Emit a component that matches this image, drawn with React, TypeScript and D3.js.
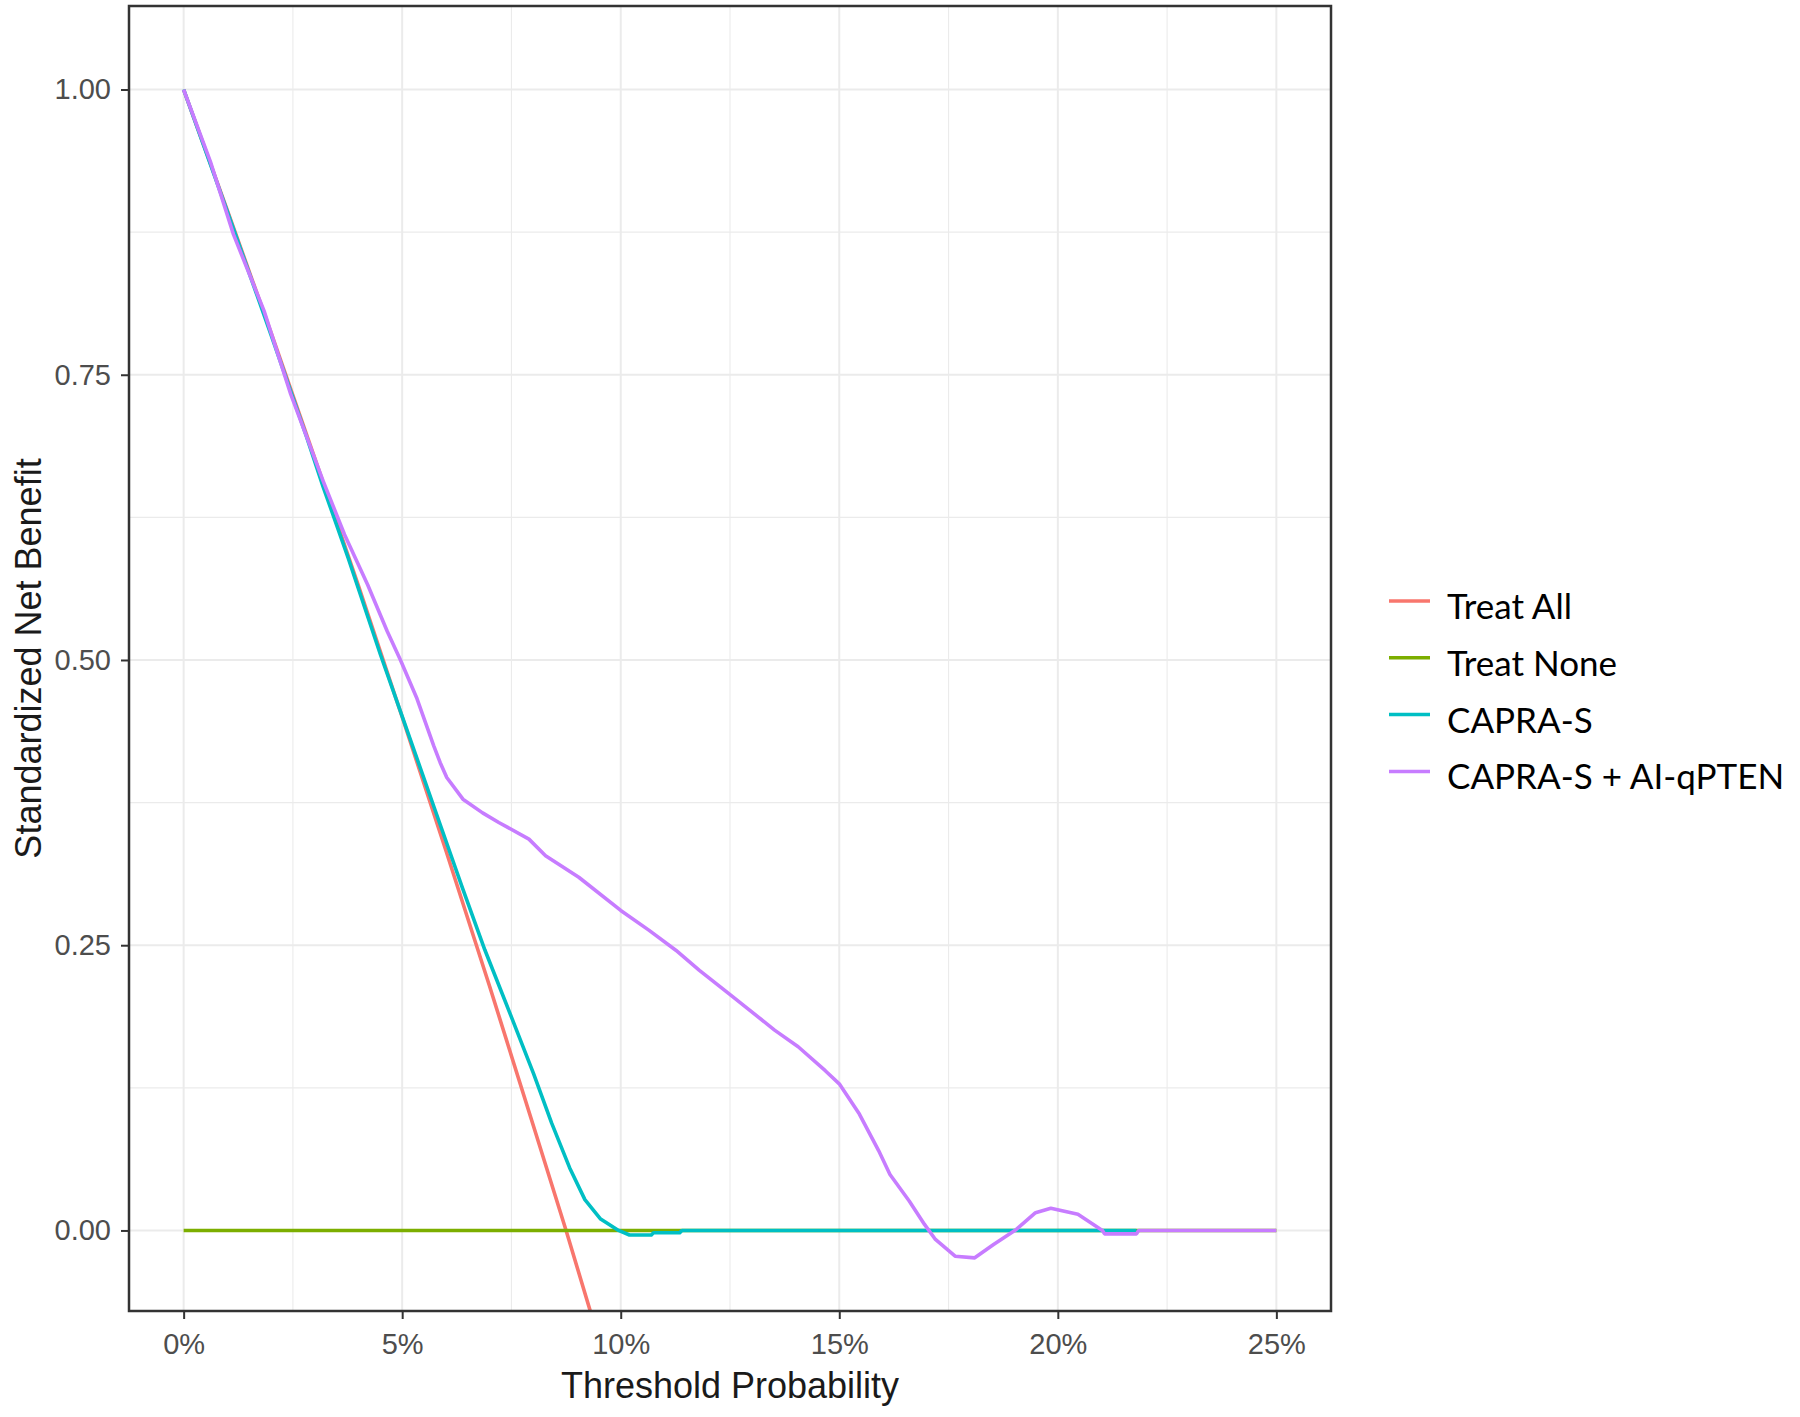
import React, { useEffect, useRef } from 'react';
import * as d3 from 'd3';

const W = 1800, H = 1417;
const PANEL = { left: 129, top: 6, right: 1331, bottom: 1311 };

const X_TICKS = [0, 5, 10, 15, 20, 25];
const X_MINOR = [2.5, 7.5, 12.5, 17.5, 22.5];
const Y_TICKS = [0, 0.25, 0.5, 0.75, 1];
const Y_MINOR = [0.125, 0.375, 0.625, 0.875];

const SERIES_NAMES = ['Treat All', 'Treat None', 'CAPRA-S', 'CAPRA-S + AI-qPTEN'];
const COLORS = ['#F8766D', '#7CAE00', '#00BFC4', '#C77CFF'];

// threshold (%) / standardized net benefit
const treatAllX = [0, 1, 2, 3, 4, 5, 6, 7, 8, 8.75, 9.4];
const treatAllY = [1, 0.894, 0.787, 0.677, 0.565, 0.45, 0.333, 0.214, 0.092, 0, -0.083];

const treatNoneX = [0, 25];
const treatNoneY = [0, 0];

const capraX = [0, 1, 2, 2.8, 3.19, 3.76, 4.5, 4.96, 5.72, 6.38, 6.89, 7.5, 8.01, 8.42, 8.83, 9.18, 9.54,
  9.95, 10.2, 10.7, 10.75, 11.35, 11.4, 21.8];
const capraY = [1, 0.893, 0.785, 0.697, 0.652, 0.59, 0.505, 0.455, 0.372, 0.3, 0.246, 0.187, 0.137, 0.094, 0.055,
  0.027, 0.01, 0, -0.004, -0.004, -0.002, -0.002, 0, 0];

const capraAiX = [0, 0.61, 1.14, 1.84, 2.45, 2.8, 3.19, 3.68, 4.21, 4.66, 4.96, 5.34, 5.72, 5.87, 6.02, 6.39, 6.84,
  7.21, 7.9, 8.28, 9.04, 10.0, 10.65, 11.26, 11.8, 12.56, 13.52, 14.06, 14.68, 15.0, 15.46, 15.9, 16.16, 16.6,
  16.95, 17.2, 17.65, 18.1, 18.53, 19.05, 19.49, 19.84, 20.46, 21.02, 21.07, 21.8, 21.85, 25];
const capraAiY = [1, 0.937, 0.873, 0.806, 0.733, 0.697, 0.657, 0.61, 0.566, 0.525, 0.5, 0.466, 0.425, 0.41, 0.397,
  0.378, 0.366, 0.3576, 0.343, 0.3285, 0.3096, 0.2805, 0.263, 0.2456, 0.228, 0.205, 0.1756, 0.161, 0.14, 0.1285,
  0.102, 0.07, 0.049, 0.0258, 0.0053, -0.0079, -0.0226, -0.024, -0.0123, 0.0009, 0.0156, 0.0194, 0.0141, 0,
  -0.003, -0.003, 0, 0];

const SERIES = [
  [treatAllX, treatAllY],
  [treatNoneX, treatNoneY],
  [capraX, capraY],
  [capraAiX, capraAiY],
];

const AXIS_FONT = '"Liberation Sans", Arial, sans-serif';

export default function App() {
  const ref = useRef<SVGSVGElement | null>(null);

  useEffect(() => {
    const svg = d3.select(ref.current);
    svg.selectAll('*').remove();

    const x = d3.scaleLinear().domain([-1.25, 26.25]).range([PANEL.left, PANEL.right]);
    const y = d3.scaleLinear().domain([-0.0706, 1.0732]).range([PANEL.bottom, PANEL.top]);

    svg.append('rect')
      .attr('width', W).attr('height', H).attr('fill', '#fff');

    // grid
    const grid = svg.append('g');
    X_MINOR.forEach(v => grid.append('line')
      .attr('x1', x(v)).attr('x2', x(v)).attr('y1', PANEL.top).attr('y2', PANEL.bottom)
      .attr('stroke', '#EBEBEB').attr('stroke-width', 1.1));
    Y_MINOR.forEach(v => grid.append('line')
      .attr('y1', y(v)).attr('y2', y(v)).attr('x1', PANEL.left).attr('x2', PANEL.right)
      .attr('stroke', '#EBEBEB').attr('stroke-width', 1.1));
    X_TICKS.forEach(v => grid.append('line')
      .attr('x1', x(v)).attr('x2', x(v)).attr('y1', PANEL.top).attr('y2', PANEL.bottom)
      .attr('stroke', '#EBEBEB').attr('stroke-width', 2));
    Y_TICKS.forEach(v => grid.append('line')
      .attr('y1', y(v)).attr('y2', y(v)).attr('x1', PANEL.left).attr('x2', PANEL.right)
      .attr('stroke', '#EBEBEB').attr('stroke-width', 2));

    // curves
    svg.append('clipPath').attr('id', 'panel-clip')
      .append('rect')
      .attr('x', PANEL.left).attr('y', PANEL.top)
      .attr('width', PANEL.right - PANEL.left).attr('height', PANEL.bottom - PANEL.top);

    const line = d3.line<[number, number]>().x(d => x(d[0])).y(d => y(d[1]));
    const curves = svg.append('g').attr('clip-path', 'url(#panel-clip)');
    SERIES.forEach(([xs, ys], i) => {
      const pts = xs.map((v, j) => [v, ys[j]] as [number, number]);
      curves.append('path')
        .attr('d', line(pts))
        .attr('fill', 'none')
        .attr('stroke', COLORS[i])
        .attr('stroke-width', 3.6)
        .attr('stroke-linejoin', 'round');
    });

    // panel border
    svg.append('rect')
      .attr('x', PANEL.left).attr('y', PANEL.top)
      .attr('width', PANEL.right - PANEL.left).attr('height', PANEL.bottom - PANEL.top)
      .attr('fill', 'none').attr('stroke', '#333').attr('stroke-width', 2.5);

    // x axis
    const xAxis = svg.append('g').attr('transform', `translate(0,${PANEL.bottom})`);
    xAxis.call(d3.axisBottom(x).tickValues(X_TICKS).tickSize(8).tickPadding(14)
      .tickFormat(d => `${d}%`));
    xAxis.select('.domain').remove();
    xAxis.selectAll('line').attr('stroke', '#333').attr('stroke-width', 2);
    xAxis.selectAll('text').attr('fill', '#4D4D4D').attr('font-size', '29px')
      .attr('font-family', AXIS_FONT);

    // y axis
    const yAxis = svg.append('g').attr('transform', `translate(${PANEL.left},0)`);
    yAxis.call(d3.axisLeft(y).tickValues(Y_TICKS).tickSize(8).tickPadding(10)
      .tickFormat(d => d3.format('.2f')(d as number)));
    yAxis.select('.domain').remove();
    yAxis.selectAll('line').attr('stroke', '#333').attr('stroke-width', 2);
    yAxis.selectAll('text').attr('fill', '#4D4D4D').attr('font-size', '29px')
      .attr('font-family', AXIS_FONT);

    // axis titles
    svg.append('text')
      .attr('x', (PANEL.left + PANEL.right) / 2).attr('y', 1398)
      .attr('text-anchor', 'middle')
      .attr('font-size', '36px').attr('font-family', AXIS_FONT).attr('fill', '#1a1a1a')
      .text('Threshold Probability');

    svg.append('text')
      .attr('transform', `translate(41,${(PANEL.top + PANEL.bottom) / 2}) rotate(-90)`)
      .attr('text-anchor', 'middle')
      .attr('font-size', '36px').attr('font-family', AXIS_FONT).attr('fill', '#1a1a1a')
      .text('Standardized Net Benefit');

    // legend
    const legend = svg.append('g');
    SERIES_NAMES.forEach((name, i) => {
      const ly = 601 + i * 56.8;
      legend.append('line')
        .attr('x1', 1389).attr('x2', 1430).attr('y1', ly).attr('y2', ly)
        .attr('stroke', COLORS[i]).attr('stroke-width', 3.5);
      legend.append('text')
        .attr('x', 1447).attr('y', ly + 18)
        .attr('font-size', '35px').attr('font-family', 'Lato, "Open Sans", sans-serif')
        .attr('fill', '#000')
        .text(name);
    });
  }, []);

  return (
    <svg ref={ref} width={W} height={H}
      style={{ position: 'absolute', left: 0, top: 0, display: 'block' }} />
  );
}
